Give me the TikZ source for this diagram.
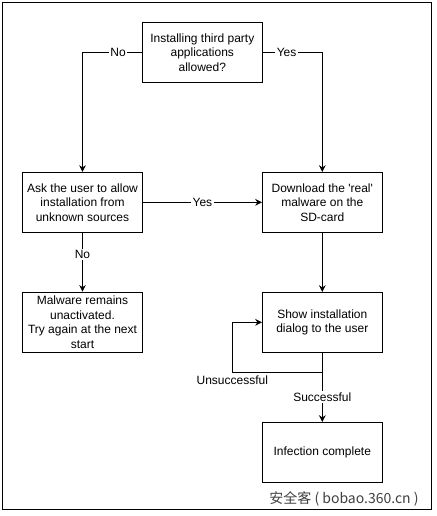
\documentclass[tikz,border=0pt]{standalone}
\usepackage{fontspec}
\setmainfont{Liberation Sans}
\newfontfamily\cjk{Noto Sans CJK SC}
\usetikzlibrary{arrows.meta, positioning}
\tikzset{
  stepbox/.style={rectangle, draw=black, line width=0.6pt, fill=white,
    minimum width=90pt, minimum height=45pt, align=center,
    font=\fontsize{9}{10.9}\selectfont, inner sep=3pt},
  arrow/.style={-{Stealth[length=5pt, width=5pt]}, line width=0.6pt, color=black},
  edgelabel/.style={fill=white, inner sep=1pt, font=\fontsize{9}{10.9}\selectfont},
}

\begin{document}
\begin{tikzpicture}[x=0.75pt, y=-0.75pt]

%% FRAME
\useasboundingbox (0,0) rectangle (436,516);
\draw[line width=0.75pt] (2.5,2.5) rectangle (431.5,509.5);

%% DECISION
\node[stepbox] (allowed) at (202.3,52.5)
  {Installing third party\\ applications\\ allowed?};

%% LEFT BRANCH
\node[stepbox] (ask_user) at (82.5,202.3)
  {Ask the user to allow\\ installation from\\ unknown sources};
\node[stepbox] (remains) at (82.5,322.3)
  {Malware remains\\ unactivated.\\ Try again at the next\\ start};

%% RIGHT BRANCH
\node[stepbox] (download) at (322.3,202.3)
  {Download the \textquotesingle real\textquotesingle\\ malware on the\\ SD-card};
\node[stepbox] (dialog) at (322.3,322.3)
  {Show installation\\ dialog to the user};
\node[stepbox] (infected) at (322.3,452.3)
  {Infection complete};

\coordinate (retry) at (232.3,372.3);

%% ARROWS
\draw[arrow] (allowed.west) -| node[edgelabel, pos=0.2] {No} (ask_user.north);
\draw[arrow] (allowed.east) -| node[edgelabel, pos=0.2] {Yes} (download.north);
\draw[arrow] (ask_user.east) -- node[edgelabel] {Yes} (download.west);
\draw[arrow] (ask_user.south) -- node[edgelabel, pos=0.37] {No} (remains.north);
\draw[arrow] (download.south) -- (dialog.north);
\draw[arrow] (dialog.south) -- node[edgelabel, pos=0.64] {Successful} (infected.north);
\draw[arrow] (dialog.south) |- (retry)
  |- node[edgelabel, pos=0, below=1pt] {Unsuccessful} (dialog.west);

%% WATERMARK
\node[font=\cjk\fontsize{10.5}{12}\selectfont, text=black!75] (mark) at (344,499)
  {安全客 ( bobao.360.cn )};

\end{tikzpicture}
\end{document}
